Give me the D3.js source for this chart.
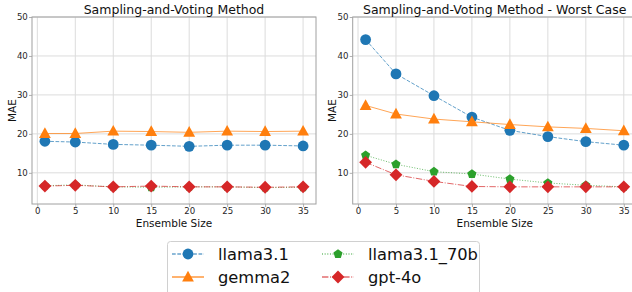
<!DOCTYPE html>
<html><head><meta charset="utf-8">
<script src="https://cdn.jsdelivr.net/npm/d3@7"></script>
<style>body{margin:0;background:#fff}svg{display:block;font-family:"DejaVu Sans",sans-serif}</style>
</head><body><svg id="c" width="632" height="292"></svg>
<script>
const ensembleSizes = [1,5,10,15,20,25,30,35];
const seriesNames = ["llama3.1","gemma2","llama3.1_70b","gpt-4o"];
const colors = ["#1f77b4","#ff7f0e","#2ca02c","#d62728"];
const markers = ["circle","triangle","pentagon","diamond"];
const dashes = ["3.7,1.6", null, "1,1.65", "6.4,1.6,1,1.6"];
// Panel 1: Sampling-and-Voting Method
const svLlama = [18.1,17.9,17.3,17.1,16.8,17.1,17.1,16.9];
const svGemma = [20.1,20.1,20.7,20.6,20.4,20.7,20.6,20.7];
const svLlama70 = [6.7,6.9,6.4,6.3,6.4,6.4,6.2,6.3];
const svGpt = [6.6,6.8,6.4,6.6,6.4,6.4,6.3,6.4];
// Panel 2: Worst Case
const wcLlama = [44.2,35.4,29.8,24.3,20.9,19.3,18.0,17.1];
const wcGemma = [27.3,25.1,23.8,23.1,22.4,21.8,21.4,20.8];
const wcLlama70 = [14.5,12.2,10.3,9.7,8.4,7.4,6.8,6.4];
const wcGpt = [12.7,9.5,7.8,6.5,6.4,6.4,6.4,6.4];
const yTicks = [10,20,30,40,50];
const xTicks = [0,5,10,15,20,25,30,35];
const titles = ["Sampling-and-Voting Method","Sampling-and-Voting Method - Worst Case"];

const svg = d3.select("#c");
const panels = [
  {x0:32, x1:316, data:[svLlama,svGemma,svLlama70,svGpt], title:titles[0]},
  {x0:352.7, x1:636.7, data:[wcLlama,wcGemma,wcLlama70,wcGpt], title:titles[1]}
];
const yTop = 17, yBot = 204;

function markerPath(type){
  if(type==="circle") return d3.symbol(d3.symbolCircle, Math.PI*5.4*5.4)();
  if(type==="triangle"){ const s=6.2; return `M0,${-s}L${s*0.95},${s*0.72}L${-s*0.95},${s*0.72}Z`; }
  if(type==="pentagon"){ const r=4.8; let p=[]; for(let i=0;i<5;i++){const a=-Math.PI/2+i*2*Math.PI/5; p.push([r*Math.cos(a), r*Math.sin(a)]);} return "M"+p.map(q=>q.join(",")).join("L")+"Z"; }
  if(type==="diamond"){ const r=6.4; return `M0,${-r}L${r},0L0,${r}L${-r},0Z`; }
}

panels.forEach(p=>{
  const x = d3.scaleLinear().domain([-0.7,36.7]).range([p.x0,p.x1]);
  const y = d3.scaleLinear().domain([2,50]).range([yBot,yTop]);
  const g = svg.append("g");
  // grid
  g.selectAll(".gx").data(xTicks).join("line").attr("x1",d=>x(d)).attr("x2",d=>x(d)).attr("y1",yTop).attr("y2",yBot).attr("stroke","#dcdcdc").attr("stroke-width",1);
  g.selectAll(".gy").data(yTicks).join("line").attr("x1",p.x0).attr("x2",p.x1).attr("y1",d=>y(d)).attr("y2",d=>y(d)).attr("stroke","#dcdcdc").attr("stroke-width",1);
  // axes
  const xa = g.append("g").attr("transform",`translate(0,${yBot})`).call(d3.axisBottom(x).tickValues(xTicks).tickSize(3).tickPadding(1.2));
  const ya = g.append("g").attr("transform",`translate(${p.x0},0)`).call(d3.axisLeft(y).tickValues(yTicks).tickSize(3).tickPadding(1.2));
  [xa,ya].forEach(a=>{a.select(".domain").remove(); a.selectAll("line").attr("stroke","#b0b0b0"); a.selectAll("text").attr("font-size","8.6px").attr("fill","#262626").attr("font-family","DejaVu Sans");});
  // frame
  g.append("rect").attr("x",p.x0).attr("y",yTop).attr("width",p.x1-p.x0).attr("height",yBot-yTop).attr("fill","none").attr("stroke","#a0a0a0").attr("stroke-width",1);
  // series
  p.data.forEach((vals,i)=>{
    const pts = ensembleSizes.map((e,k)=>[x(e),y(vals[k])]);
    g.append("path").attr("d",d3.line()(pts)).attr("fill","none").attr("stroke",colors[i]).attr("stroke-width",1).attr("opacity",0.7).attr("stroke-dasharray",dashes[i]);
    g.selectAll(null).data(pts).join("path").attr("d",markerPath(markers[i])).attr("transform",d=>`translate(${d[0]},${d[1]})`).attr("fill",colors[i]);
  });
  // title & labels
  g.append("text").attr("x",(p.x0+p.x1)/2).attr("y",13.5).attr("text-anchor","middle").attr("font-size","12.5px").attr("fill","#111").text(p.title);
  g.append("text").attr("x",(p.x0+p.x1)/2).attr("y",226.5).attr("text-anchor","middle").attr("font-size","10.5px").attr("fill","#111").text("Ensemble Size");
  g.append("text").attr("transform",`translate(${p.x0-16.5},${(yTop+yBot)/2}) rotate(-90)`).attr("text-anchor","middle").attr("font-size","10.5px").attr("fill","#111").text("MAE");
});

// legend
const lg = svg.append("g");
lg.append("rect").attr("x",167.5).attr("y",241.5).attr("width",312).attr("height",60).attr("rx",3).attr("fill","#fff").attr("stroke","#d0d0d0").attr("stroke-width",1);
const legendPos = [[172,254],[172,277],[322,254],[322,277]];
seriesNames.forEach((n,i)=>{
  const [lx,ly] = legendPos[i];
  lg.append("line").attr("x1",lx).attr("x2",lx+32).attr("y1",ly).attr("y2",ly).attr("stroke",colors[i]).attr("stroke-width",1.2).attr("stroke-dasharray",dashes[i]);
  lg.append("path").attr("d",markerPath(markers[i])).attr("transform",`translate(${lx+16},${ly})`).attr("fill",colors[i]);
  lg.append("text").attr("x",lx+46).attr("y",ly+5.8).attr("font-size","16.3px").attr("fill","#111").text(n);
});
</script></body></html>
